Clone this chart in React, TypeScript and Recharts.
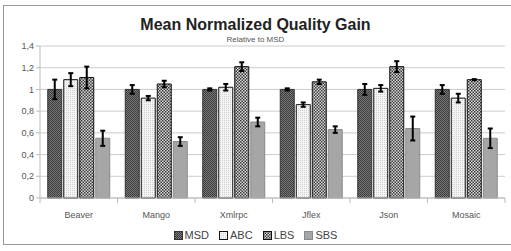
import React from "react";
import { BarChart, Bar, XAxis, YAxis, CartesianGrid, ErrorBar } from "recharts";

const categories = ["Beaver", "Mango", "Xmlrpc", "Jflex", "Json", "Mosaic"];
const msd = [1.0, 1.0, 1.0, 1.0, 1.0, 1.0];
const msdErr = [0.09, 0.04, 0.01, 0.01, 0.05, 0.04];
const abc = [1.09, 0.92, 1.02, 0.86, 1.01, 0.92];
const abcErr = [0.06, 0.02, 0.03, 0.02, 0.03, 0.04];
const lbs = [1.11, 1.05, 1.21, 1.07, 1.21, 1.09];
const lbsErr = [0.1, 0.03, 0.04, 0.02, 0.05, 0.005];
const sbs = [0.55, 0.52, 0.7, 0.63, 0.64, 0.55];
const sbsErr = [0.07, 0.04, 0.04, 0.03, 0.11, 0.09];
const yTicks = [0, 0.2, 0.4, 0.6, 0.8, 1.0, 1.2, 1.4];

const data = categories.map((c, i) => ({
  name: c,
  MSD: msd[i], MSDe: msdErr[i],
  ABC: abc[i], ABCe: abcErr[i],
  LBS: lbs[i], LBSe: lbsErr[i],
  SBS: sbs[i], SBSe: sbsErr[i],
}));

const FONT = "'Liberation Sans', Arial, sans-serif";

const series = [
  { key: "MSD", fill: "url(#pMSD)", stroke: "#333" },
  { key: "ABC", fill: "url(#pABC)", stroke: "#111" },
  { key: "LBS", fill: "url(#pLBS)", stroke: "#111" },
  { key: "SBS", fill: "#a6a6a6", stroke: "#8a8a8a" },
];

const Patterns = () => (
  <svg width={0} height={0} style={{ position: "absolute" }}>
    <defs>
      <pattern id="pMSD" width="2" height="2" patternUnits="userSpaceOnUse">
        <rect width="2" height="2" fill="#7a7a7a" />
        <rect width="1" height="1" fill="#3a3a3a" />
        <rect x="1" y="1" width="1" height="1" fill="#3a3a3a" />
      </pattern>
      <pattern id="pABC" width="2" height="2" patternUnits="userSpaceOnUse">
        <rect width="2" height="2" fill="#f4f4f4" />
        <rect width="1" height="1" fill="#cfcfcf" />
      </pattern>
      <pattern id="pLBS" width="3" height="3" patternUnits="userSpaceOnUse">
        <rect width="3" height="3" fill="#d8d8d8" />
        <rect width="1.5" height="1.5" fill="#3a3a3a" />
        <rect x="1.5" y="1.5" width="1.5" height="1.5" fill="#3a3a3a" />
      </pattern>
    </defs>
  </svg>
);

const XTick = (props: any) => {
  const { x, y, payload } = props;
  return (
    <g>
      <line x1={x - 38.75} y1={y - 8} x2={x - 38.75} y2={y - 3} stroke="#bbb" />
      {payload.index === categories.length - 1 && (
        <line x1={x + 38.75} y1={y - 8} x2={x + 38.75} y2={y - 3} stroke="#bbb" />
      )}
      <text x={x} y={y + 12} textAnchor="middle" fontSize={9} fill="#555" fontFamily={FONT}>
        {payload.value}
      </text>
    </g>
  );
};

const LegendBox = () => (
  <div style={{ position: "absolute", left: 0, top: 229, width: 511, textAlign: "center", paddingLeft: 10, boxSizing: "border-box", fontFamily: FONT, fontSize: 11, color: "#444", lineHeight: "12px" }}>
    {series.map((s) => (
      <span key={s.key} style={{ display: "inline-block", marginRight: 10, whiteSpace: "nowrap" }}>
        <svg width={9} height={9} style={{ verticalAlign: "-1px", marginRight: 2 }}>
          <rect x={0.5} y={0.5} width={8} height={8} fill={s.fill} stroke={s.stroke} />
        </svg>
        {s.key}
      </span>
    ))}
  </div>
);

export default function App() {
  return (
    <div style={{ position: "absolute", left: 0, top: 0, width: 511, height: 251, background: "#fff" }}>
      <Patterns />
      <div style={{ position: "absolute", left: 3, top: 5, width: 510, height: 240, border: "1px solid #999", boxSizing: "border-box" }} />
      <div style={{ position: "absolute", left: 0, width: 511, top: 16, textAlign: "center", fontFamily: FONT, fontWeight: "bold", fontSize: 16, color: "#222" }}>
        Mean Normalized Quality Gain
      </div>
      <div style={{ position: "absolute", left: 0, width: 511, top: 35, textAlign: "center", fontFamily: FONT, fontSize: 8, color: "#555" }}>
        Relative to MSD
      </div>
      <div style={{ position: "absolute", left: 0, top: 0 }}>
        <BarChart width={511} height={251} data={data} margin={{ top: 46, right: 6, left: 0, bottom: 23 }} barCategoryGap="10%" barGap={2}>
          <CartesianGrid vertical={false} stroke="#ccc" />
          <XAxis dataKey="name" tick={<XTick />} tickLine={false} axisLine={{ stroke: "#bbb" }} height={30} interval={0} />
          <YAxis
            domain={[0, 1.4]}
            ticks={yTicks}
            width={40}
            tickFormatter={(v: number) => (v === 0 ? "0" : String(Number(v.toFixed(1))).replace(".", ","))}
            tick={{ fontSize: 9, fill: "#555", fontFamily: FONT }}
            tickLine={{ stroke: "#bbb" }}
            tickSize={4}
            axisLine={{ stroke: "#bbb" }}
            interval={0}
          />
          {series.map((s) => (
            <Bar key={s.key} dataKey={s.key} fill={s.fill} stroke={s.stroke} strokeWidth={1} isAnimationActive={false}>
              <ErrorBar dataKey={s.key + "e"} width={2.5} stroke="#000" strokeWidth={2} isAnimationActive={false} />
            </Bar>
          ))}
        </BarChart>
      </div>
      <LegendBox />
    </div>
  );
}
